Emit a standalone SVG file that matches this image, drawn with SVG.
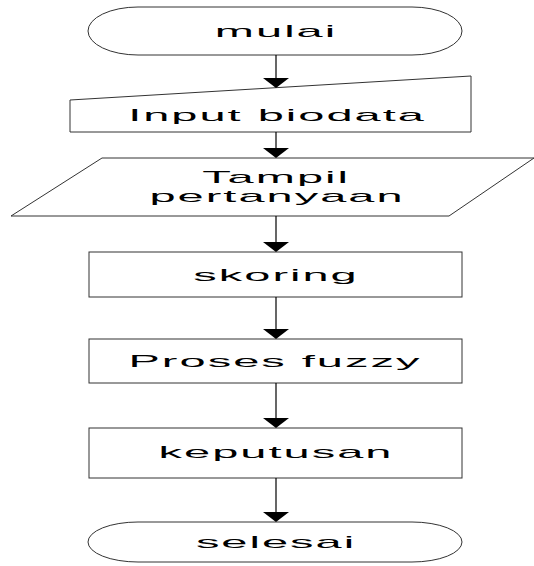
<svg xmlns="http://www.w3.org/2000/svg" width="534" height="566" viewBox="0 0 534 566">
<style>
.s{fill:#fff;stroke:#333;stroke-width:1}
.t{font-family:"Liberation Sans",Arial,sans-serif;font-size:47px;fill:#000;text-anchor:middle;letter-spacing:2px}
.c line{stroke:#000;stroke-width:1.2}
.c polygon{fill:#000}
</style>
<rect width="534" height="566" fill="#fff"/>
<g id="mulai">
<rect class="s" x="88" y="7" width="374" height="48" rx="50" ry="24"/>
<g transform="translate(276,37) scale(1,0.362)"><text class="t">mulai</text></g>
</g>
<g id="input">
<polygon class="s" points="70,100 471,76 471,132 70,132"/>
<g transform="translate(277,121) scale(1,0.362)"><text class="t">Input biodata</text></g>
</g>
<g id="tampil">
<polygon class="s" points="102,158 534,158 449,216 11,216"/>
<g transform="translate(276,183) scale(1,0.362)"><text class="t">Tampil</text></g>
<g transform="translate(277,202) scale(1,0.362)"><text class="t">pertanyaan</text></g>
</g>
<g id="skoring">
<rect class="s" x="89" y="252" width="373" height="45"/>
<g transform="translate(276,281) scale(1,0.362)"><text class="t">skoring</text></g>
</g>
<g id="proses">
<rect class="s" x="89" y="339" width="373" height="44"/>
<g transform="translate(275,367) scale(1,0.362)"><text class="t">Proses fuzzy</text></g>
</g>
<g id="keputusan">
<rect class="s" x="89" y="428" width="373" height="50"/>
<g transform="translate(276,458) scale(1,0.362)"><text class="t">keputusan</text></g>
</g>
<g id="selesai">
<rect class="s" x="88" y="522" width="374" height="40" rx="50" ry="20"/>
<g transform="translate(276,548) scale(1,0.362)"><text class="t">selesai</text></g>
</g>
<g class="c" id="connectors">
<line x1="276" y1="55" x2="276" y2="79"/><polygon points="263,78 289,78 276,88"/>
<line x1="276" y1="132" x2="276" y2="149"/><polygon points="263,148 289,148 276,158"/>
<line x1="276" y1="216" x2="276" y2="243"/><polygon points="263,242 289,242 276,252"/>
<line x1="276" y1="297" x2="276" y2="330"/><polygon points="263,329 289,329 276,339"/>
<line x1="276" y1="383" x2="276" y2="419"/><polygon points="263,418 289,418 276,428"/>
<line x1="276" y1="478" x2="276" y2="513"/><polygon points="263,512 289,512 276,522"/>
</g>
</svg>
